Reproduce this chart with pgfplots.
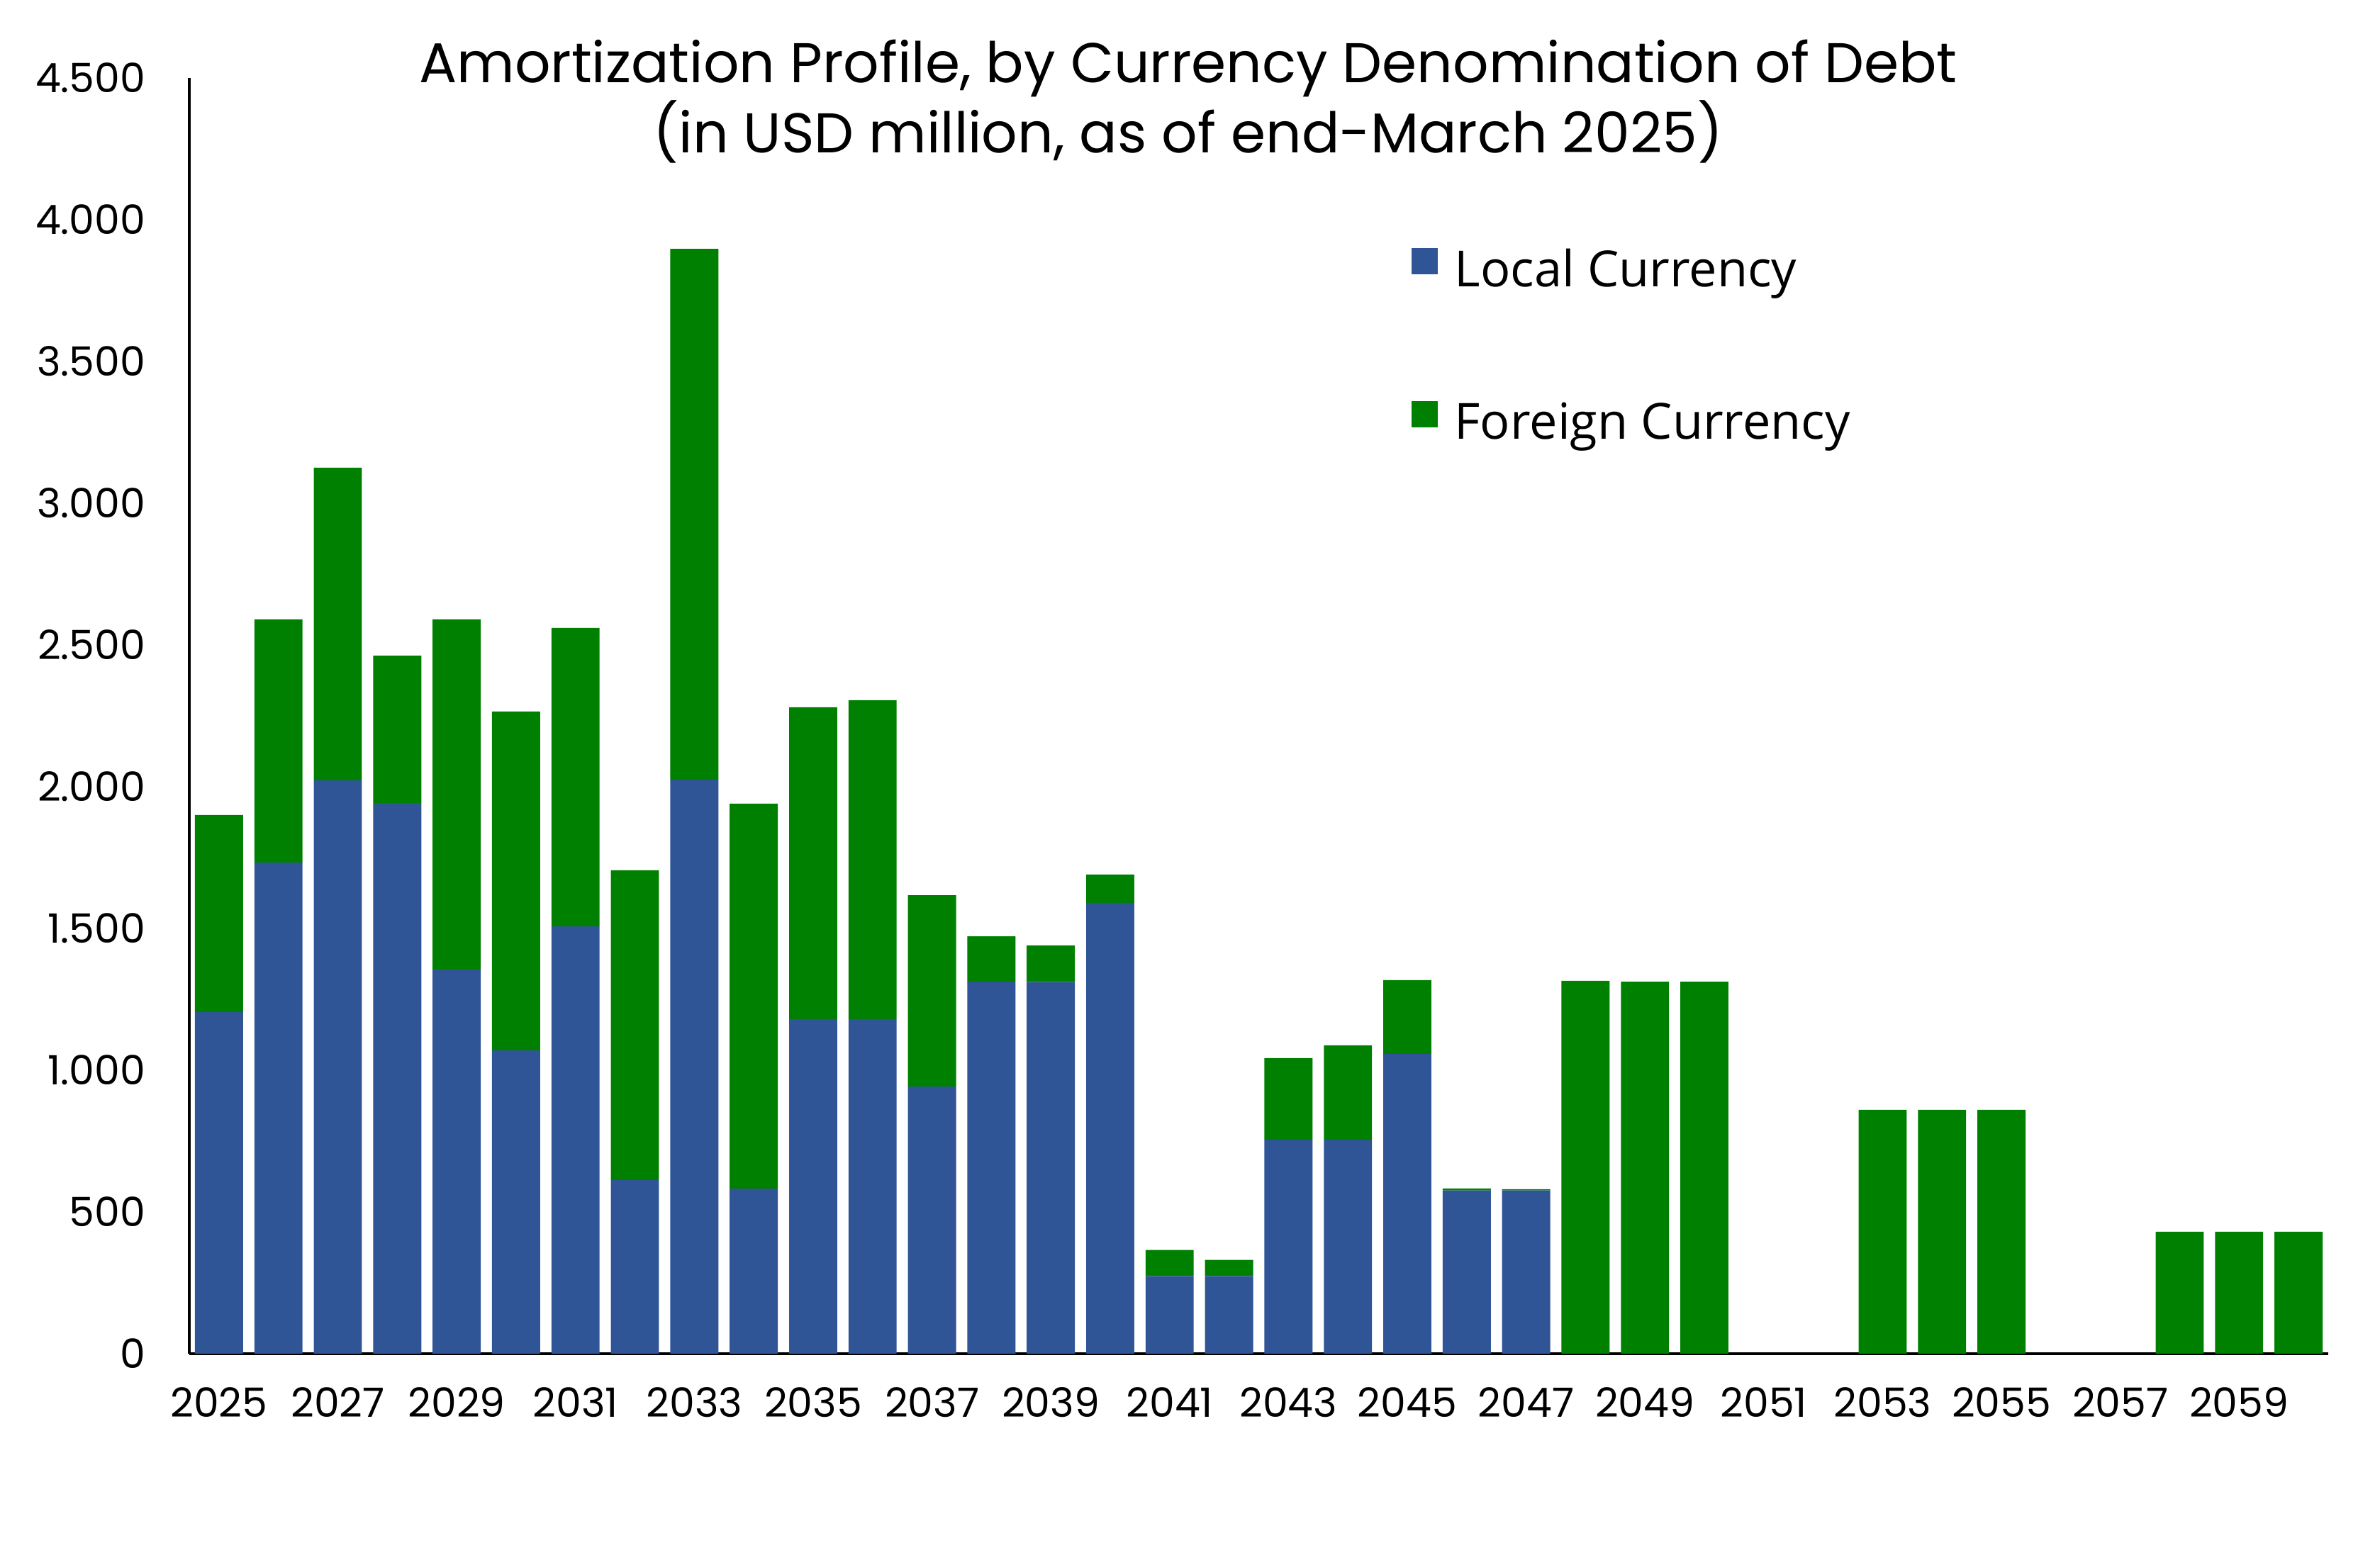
\documentclass[border=0pt]{standalone}
\usepackage{pgfplots}
\usepackage{pgfplotstable}
\pgfplotsset{compat=1.18}
\usepackage{fontspec}
\setmainfont{Poppins}
\newfontfamily\legendfont{Open Sans}

\definecolor{localblue}{HTML}{2F5597}
\definecolor{foreigngreen}{HTML}{008000}

% amortization by year, USD million
\pgfplotstableread{
year local foreign
2025 1205 695
2026 1732 858
2027 2022 1103
2028 1942 520
2029 1357 1233
2030 1070 1195
2031 1507 1053
2032 612 1093
2033 2025 1872
2034 582 1358
2035 1180 1100
2036 1180 1125
2037 942 675
2038 1312 160
2039 1311 129
2040 1590 100
2041 274 92
2042 274 57
2043 755 288
2044 755 333
2045 1058 260
2046 576 7
2047 576 4
2048 0 1315
2049 0 1312
2050 0 1312
2051 0 0
2052 0 0
2053 0 860
2054 0 860
2055 0 860
2056 0 0
2057 0 0
2058 0 430
2059 0 430
2060 0 430
}\amort

\begin{document}
\begin{tikzpicture}
\useasboundingbox (-1.335,-1.42) rectangle (15.45,9.55);
\begin{axis}[
    scale only axis,
    width=15.085cm, height=9cm,
    ybar stacked,
    bar width=0.81,
    xmin=2024.5, xmax=2060.5,
    ymin=0, ymax=4500,
    axis x line=bottom, axis y line=left,
    axis line style={-, line width=0.5pt, black},
    xtick={2025,2027,...,2059},
    ytick={0,500,...,4500},
    major tick length=0pt,
    /pgf/number format/assume math mode=true,
    tick label style={font=\fontsize{8.1}{10}\selectfont},
    xticklabel style={/pgf/number format/1000 sep={}, yshift=-0.115cm},
    yticklabel style={/pgf/number format/1000 sep={.}, xshift=-0.185cm},
    legend style={at={(axis cs:2045.05,3935)}, anchor=north west,
        draw=none, fill=none, inner sep=0pt,
        font=\legendfont\fontsize{10}{12}\selectfont,
        row sep=0.62cm, column sep=0.05cm},
    legend cell align=left,
    legend image code/.code={\fill[#1] (-0.04cm,-0.02cm) rectangle (0.145cm,0.165cm);},
]
\addplot[fill=localblue, draw=none] table[x=year, y=local] {\amort};
\addlegendentry{Local Currency}
\addplot[fill=foreigngreen, draw=none] table[x=year, y=foreign] {\amort};
\addlegendentry{Foreign Currency}
\end{axis}
\node[anchor=base, font=\fontsize{11.25}{13}\selectfont] at (7.045,8.965) {Amortization Profile, by Currency Denomination of Debt};
\node[anchor=base, font=\fontsize{11.25}{13}\selectfont] at (7.045,8.47) {(in USD million, as of end-March 2025)};
\end{tikzpicture}
\end{document}
